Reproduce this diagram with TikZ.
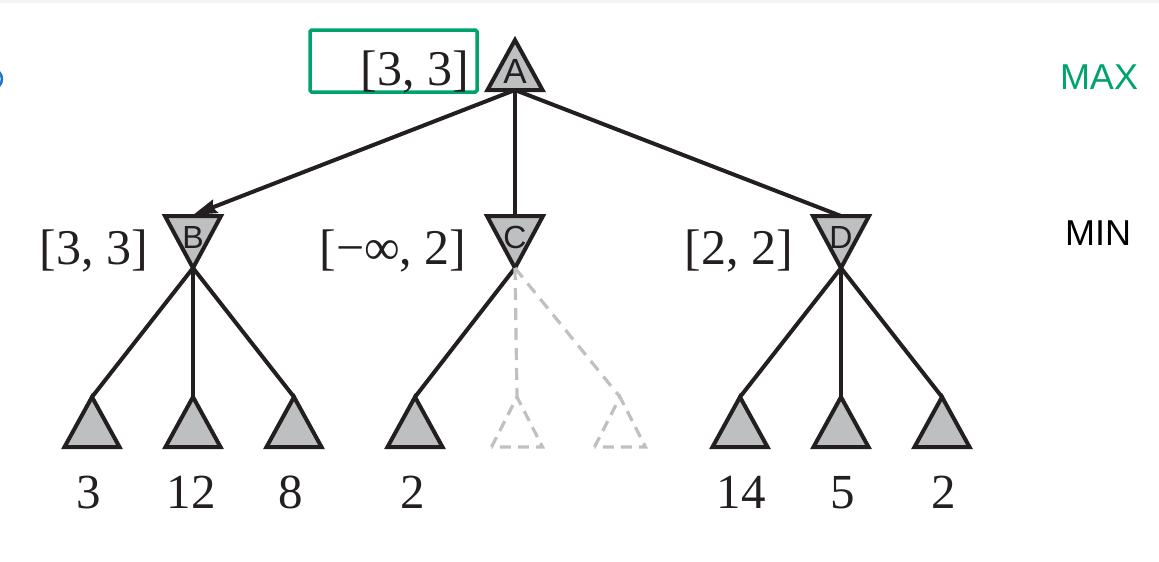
\documentclass[tikz,border=0pt]{standalone}
\usepackage{fontspec}
\setmainfont{Liberation Serif}
\newfontfamily\treesans{Liberation Sans}
\usetikzlibrary{arrows.meta}

\definecolor{maxgreen}{RGB}{0,163,108}
\definecolor{trifill}{RGB}{190,191,193}
\definecolor{ink}{RGB}{35,31,32}
\definecolor{prunegray}{RGB}{192,192,192}
\definecolor{cutblue}{RGB}{30,120,200}

\begin{document}
\begin{tikzpicture}[x=1pt,y=-1pt,
  tri/.style={draw=ink,fill=trifill,line width=4pt,line join=miter},
  ghosttri/.style={draw=prunegray,line width=3.2pt,dash pattern=on 11pt off 7pt},
  treeline/.style={draw=ink,line width=4pt},
  ghost/.style={draw=prunegray,line width=3.2pt,dash pattern=on 12pt off 8pt},
  arrowline/.style={treeline,-{Stealth[length=24pt,width=14pt,inset=3pt]}},
  nodename/.style={inner sep=0pt,font=\treesans\fontsize{32}{32}\selectfont,text=ink},
  bound/.style={inner sep=0pt,anchor=base,font=\fontsize{50}{50}\selectfont,text=ink},
  leafval/.style={inner sep=0pt,anchor=base,font=\fontsize{49}{49}\selectfont,text=ink},
  levelname/.style={inner sep=0pt,anchor=base,font=\treesans\fontsize{36}{36}\selectfont},
  maxtri/.pic={\path[tri] (-27.5,25) -- (0,-25) -- (27.5,25) -- cycle;},
  mintri/.pic={\path[tri] (-28,-26) -- (28,-26) -- (0,26) -- cycle;},
  prunedtri/.pic={\path[ghosttri] (-25.5,25) -- (0,-25) -- (25.5,25) -- cycle;}
]
\useasboundingbox (0,0) rectangle (1159,562);

% frame edge and clipped marker at the left border
\fill[gray!8] (0,0) rectangle (1159,2.5);
\draw[cutblue,line width=2.5pt] (-8,79) circle (10);

% root (MAX) node
\pic at (515,65) {maxtri};
\node[nodename,font=\treesans\fontsize{35}{35}\selectfont] (A) at (515,71) {A};
\coordinate (Aout) at (515,90);

% MIN nodes
\pic at (193,242) {mintri};
\node[nodename] (B) at (193,237) {B};
\coordinate (Bin) at (193,215);
\coordinate (Bout) at (193,268);

\pic at (515,242) {mintri};
\node[nodename] (C) at (515,237) {C};
\coordinate (Cin) at (515,216);
\coordinate (Cout) at (515,268);

\pic at (841,242) {mintri};
\node[nodename] (D) at (841,237) {D};
\coordinate (Din) at (841,216);
\coordinate (Dout) at (841,268);

% leaves
\foreach \n/\x in {b1/92,b2/193,b3/294,c1/415,d1/740,d2/841,d3/942}{
  \pic at (\x,422) {maxtri};
  \coordinate (\n) at (\x,397);
}
\foreach \n/\x in {c2/517,c3/620}{
  \pic at (\x,422) {prunedtri};
  \coordinate (\n) at (\x,397);
}

% connectors
\draw[arrowline] (Aout) -- (Bin);
\draw[treeline] (Aout) -- (Cin);
\draw[treeline] (Aout) -- (Din);
\foreach \l in {b1,b2,b3}{\draw[treeline] (Bout) -- (\l);}
\draw[treeline] (Cout) -- (c1);
\draw[ghost] (Cout) -- (c2);
\draw[ghost] (Cout) -- (c3);
\foreach \l in {d1,d2,d3}{\draw[treeline] (Dout) -- (\l);}

% value bounds
\draw[maxgreen,line width=3.5pt,rounded corners=1.5pt] (310,30) rectangle (477,92);
\node[bound] (vA) at (415,85) {[3, 3]};
\node[bound] (vB) at (94,264) {[3, 3]};
\node[bound] (vC) at (393,264) {[−∞, 2]};
\node[bound] (vD) at (739,264) {[2, 2]};

% leaf values
\foreach \n/\x/\v in {v1/89/3,v2/191/12,v3/291/8,v4/413/2,v5/741/14,v6/843/5,v7/944/2}{
  \node[leafval] (\n) at (\x,508) {\v};
}

% level names
\node[levelname,text=maxgreen] (maxlvl) at (1099,89) {MAX};
\node[levelname,text=black] (minlvl) at (1098,245) {MIN};
\end{tikzpicture}
\end{document}
